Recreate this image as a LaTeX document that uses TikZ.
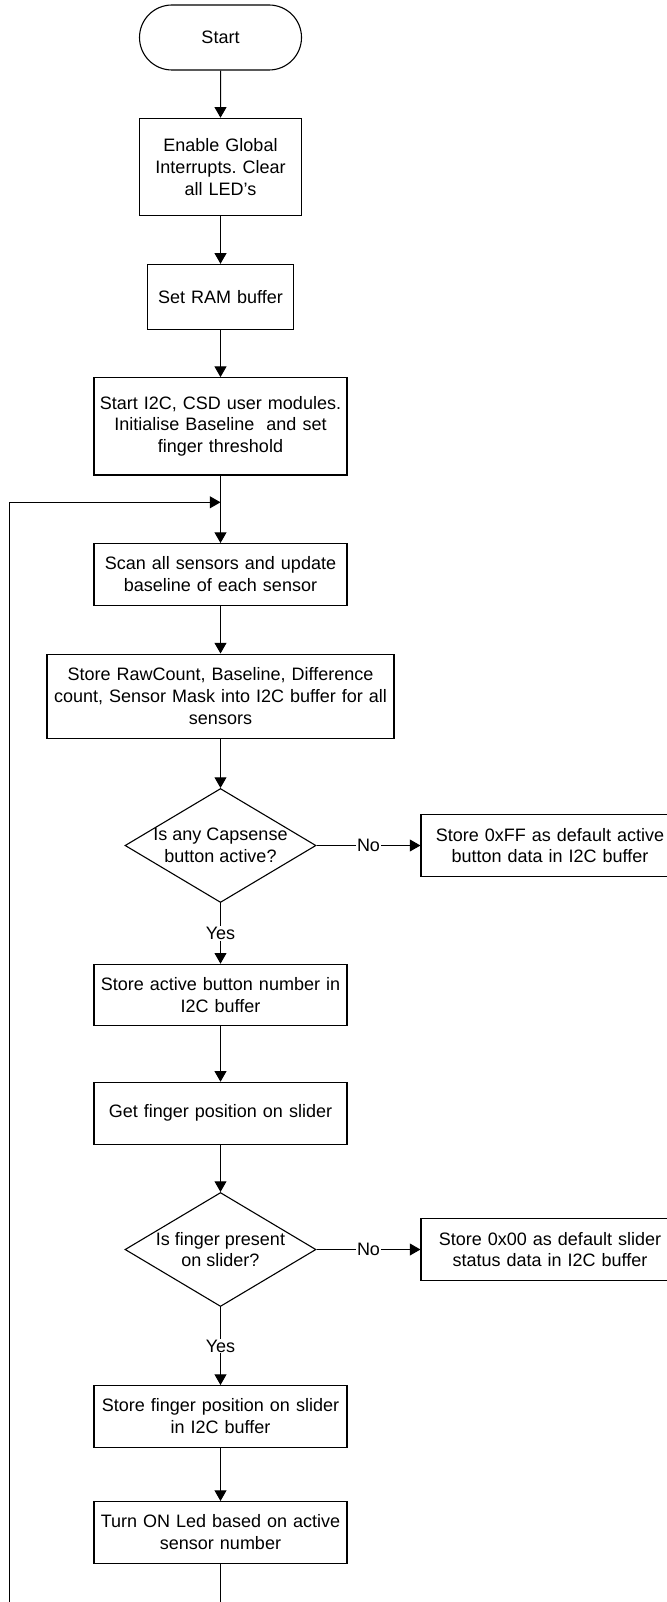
\documentclass[tikz,border=0pt]{standalone}
\usepackage{fontspec}
\setmainfont{Liberation Sans}
\usepackage{tikz}
\usetikzlibrary{shapes,arrows,arrows.meta}
\usetikzlibrary{positioning}
\frenchspacing
\tikzstyle{terminal} = [rounded rectangle, draw, line width=1.1pt,
    minimum width=162pt, minimum height=65pt, inner sep=0pt]
\tikzstyle{decision} = [diamond, draw, line width=1.1pt,
    minimum width=191pt, minimum height=114pt, inner sep=0pt]
\tikzstyle{block} = [rectangle, draw, line width=1.1pt, text width=245pt,
    text centered, inner xsep=4pt, inner ysep=4pt, minimum height=61.5pt]
\tikzstyle{line} = [draw, line width=1pt, -{Triangle[length=10.7pt,width=12pt]}]
\tikzstyle{answer} = [fill=white, inner sep=1pt]

\begin{document}
\begin{tikzpicture}[x=1pt,y=-1pt,font=\fontsize{18}{21.7}\selectfont]
    \useasboundingbox (0,0) rectangle (666,1602);
    % Place nodes
    \node [terminal] at (220.5,37.5) (start) {Start};
    \node [block, text width=154pt, minimum height=97.4pt, below of=start, node distance=129.5pt] (enable) {Enable Global\\Interrupts. Clear\\all LED’s};
    \node [block, text width=138pt, minimum height=64.7pt, below of=enable, node distance=129.7pt] (ram) {Set RAM buffer};
    \node [block, minimum height=97.3pt, below of=ram, node distance=129.6pt] (init) {Start I2C, CSD user modules.\\Initialise Baseline~ and set\\finger threshold};
    \coordinate [below of=init, node distance=76pt] (loopin);
    \node [block, below of=init, node distance=148pt] (scan) {Scan all sensors and update\\baseline of each sensor};
    \node [block, text width=339pt, minimum height=84.3pt, below of=scan, node distance=121.9pt] (store) {Store RawCount, Baseline, Difference\\count, Sensor Mask into I2C buffer for all\\sensors};
    \node [decision, below of=store, node distance=149.3pt,
        label={[align=center]center:Is any Capsense\\button active?}] (anybtn) {};
    \node [block, text width=250pt, right of=anybtn, node distance=329.5pt] (btnno) {Store 0xFF as default active\\button data in I2C buffer};
    \node [block, below of=anybtn, node distance=149.5pt] (btnnum) {Store active button number in\\I2C buffer};
    \node [block, minimum height=62pt, below of=btnnum, node distance=118.3pt] (getpos) {Get finger position on slider};
    \node [decision, below of=getpos, node distance=136.2pt,
        label={[align=center]center:Is finger present\\on slider?}] (finger) {};
    \node [block, text width=250pt, right of=finger, node distance=329.5pt] (sldno) {Store 0x00 as default slider\\status data in I2C buffer};
    \node [block, below of=finger, node distance=166.8pt] (sldpos) {Store finger position on slider\\in I2C buffer};
    \node [block, below of=sldpos, node distance=116pt] (ledon) {Turn ON Led based on active\\sensor number};
    \coordinate (loopbot) at (9.5,1602);
    % Draw edges
    \path [line] (start) -- (enable);
    \path [line] (enable) -- (ram);
    \path [line] (ram) -- (init);
    \path [line] (init) -- (scan);
    \path [line] (scan) -- (store);
    \path [line] (store) -- (anybtn);
    \path [line] (anybtn) -- node [answer] {No} (btnno);
    \path [line] (anybtn) -- node [answer] {Yes} (btnnum);
    \path [line] (btnnum) -- (getpos);
    \path [line] (getpos) -- (finger);
    \path [line] (finger) -- node [answer] {No} (sldno);
    \path [line] (finger) -- node [answer] {Yes} (sldpos);
    \path [line] (sldpos) -- (ledon);
    \draw [line width=1pt] (ledon) -- (ledon |- loopbot);
    \path [line] (loopbot) |- (loopin);
\end{tikzpicture}
\end{document}
